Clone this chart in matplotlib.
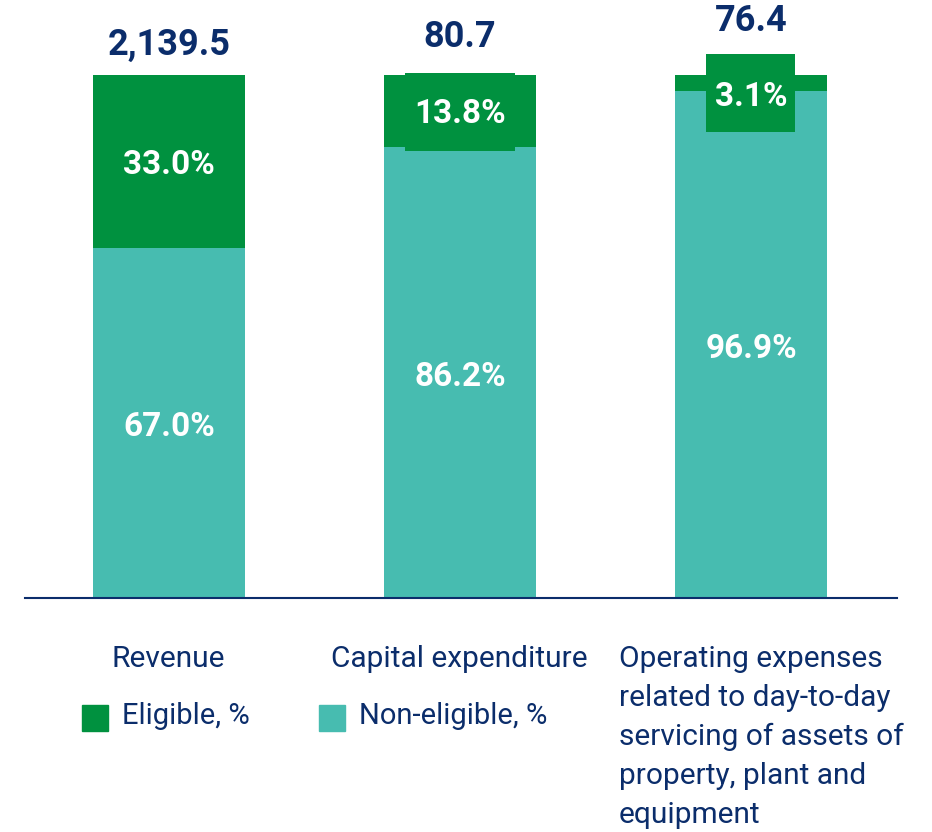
import matplotlib.pyplot as plt
from matplotlib.patches import Rectangle

plt.rcParams['font.family'] = ['Roboto', 'DejaVu Sans']

# data
categories = ['Revenue', 'Capital expenditure',
              'Operating expenses\nrelated to day-to-day\nservicing of assets of\nproperty, plant and\nequipment']
totals = ['2,139.5', '80.7', '76.4']
eligible = [33.0, 13.8, 3.1]
non_eligible = [67.0, 86.2, 96.9]

green = '#00913f'
teal = '#47bcb0'
navy = '#0b2d6b'

fig = plt.figure(figsize=(9.32, 8.32), dpi=100)
W, H = 932, 832
ax = fig.add_axes([25 / W, 1 - 598 / H, 872 / W, 523 / H])

x = list(range(len(categories)))
width = 0.522
ax.bar(x, non_eligible, width=width, color=teal)
ax.bar(x, eligible, width=width, bottom=non_eligible, color=green)

ax.set_xlim(-0.495, 2.502)
ax.set_ylim(0, 100)
ax.axis('off')
ax.axhline(0, color=navy, lw=1.5, clip_on=False)

# small segments get a wider green label box: (half width, bottom, top, text y)
small_box = {1: (0.19, 85.5, 100.4, 92.6), 2: (0.153, 89.1, 104.0, 95.7)}
total_y = [105.8, 107.3, 110.3]
nudge = -0.8  # small downward shift of the percent labels

for i in x:
    ax.text(i, total_y[i], totals[i], ha='center', va='center', color=navy,
            fontsize=26, fontweight='bold', clip_on=False)
    ax.text(i, non_eligible[i] / 2 + nudge, f'{non_eligible[i]:.1f}%', ha='center',
            va='center', color='white', fontsize=24, fontweight='bold')
    if i in small_box:
        hw, b, t, ty = small_box[i]
        ax.add_patch(Rectangle((i - hw, b), 2 * hw, t - b, color=green,
                               clip_on=False, lw=0))
        ax.text(i, ty, f'{eligible[i]:.1f}%', ha='center', va='center',
                color='white', fontsize=24, fontweight='bold')
    else:
        ax.text(i, non_eligible[i] + eligible[i] / 2 + nudge, f'{eligible[i]:.1f}%',
                ha='center', va='center', color='white', fontsize=24, fontweight='bold')

# category labels under the axis
label_x = [112, 331, 619]
for lx, cat in zip(label_x, categories):
    fig.text(lx / W, 1 - 645 / H, cat, ha='left', va='top', color=navy,
             fontsize=21.5, linespacing=1.5)

# legend
for sx, name, c in [(82, 'Eligible, %', green), (319, 'Non-eligible, %', teal)]:
    fig.patches.append(Rectangle((sx / W, 1 - 731 / H), 26 / W, 26 / H,
                                 transform=fig.transFigure, color=c))
    fig.text((sx + 40) / W, 1 - 716 / H, name, ha='left', va='center',
             color=navy, fontsize=21)

fig.savefig('out.png', dpi=100)
